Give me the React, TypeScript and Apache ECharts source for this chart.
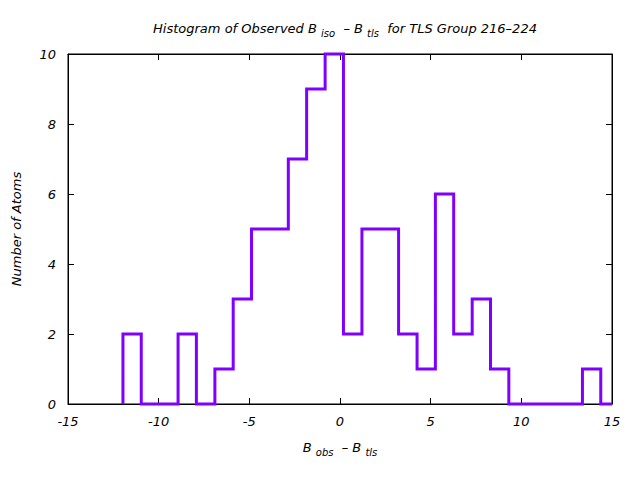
import React, { useEffect, useRef } from "react";
import * as echarts from "echarts";

// Bin edges (B_obs - B_tls) and counts per bin
const binEdges = [
  -11.97, -10.96, -9.94, -8.93, -7.92, -6.9, -5.89, -4.88, -3.86, -2.85, -1.84,
  -0.82, 0.19, 1.21, 2.22, 3.23, 4.25, 5.26, 6.27, 7.29, 8.3, 9.31, 10.33,
  11.34, 12.35, 13.37, 14.38,
];
const binCounts = [
  2, 0, 0, 2, 0, 1, 3, 5, 5, 7, 9, 10, 2, 5, 5, 2, 1, 6, 2, 3, 1, 0, 0, 0, 0, 1,
];
const xTicks = [-15, -10, -5, 0, 5, 10, 15];
const yTicks = [0, 2, 4, 6, 8, 10];

const FONT = "DejaVu Sans";

export default function App() {
  const ref = useRef<HTMLDivElement>(null);
  useEffect(() => {
    if (!ref.current) return;
    const chart = echarts.init(ref.current, null, { renderer: "svg" });
    const pts: number[][] = [[binEdges[0], 0]];
    for (let i = 0; i < binCounts.length; i++) {
      pts.push([binEdges[i], binCounts[i]]);
      pts.push([binEdges[i + 1], binCounts[i]]);
    }
    pts.push([binEdges[binEdges.length - 1], 0]);
    pts.push([xTicks[xTicks.length - 1], 0]);

    const txt = { fontFamily: FONT, fontStyle: "italic", fontWeight: "normal", fontSize: 13, color: "#000" };
    const sub = { fontFamily: FONT, fontStyle: "italic", fontWeight: "normal", fontSize: 10, color: "#000", padding: [9, 0, 0, 0] };
    const tickCommon = { show: true, inside: true, length: 6, lineStyle: { color: "#000" } };

    chart.setOption({
      animation: false,
      backgroundColor: "#fff",
      title: {
        text: "{a|Histogram of Observed B }{s|iso}{a|  – B }{s|tls}{a|  for TLS Group 216–224}",
        left: 340,
        textAlign: "center",
        top: 14,
        textStyle: { fontWeight: "normal", rich: { a: txt, s: sub } },
      },
      grid: { left: 68, right: 28, top: 54, bottom: 76, show: true, borderColor: "#000", borderWidth: 1 },
      xAxis: [
        {
          type: "value",
          min: -15,
          max: 15,
          interval: 5,
          position: "bottom",
          axisLine: { show: true, onZero: false, lineStyle: { color: "#000" } },
          axisTick: tickCommon,
          splitLine: { show: false },
          axisLabel: { ...txt, margin: 11 },
          name: "{a|B }{s|obs}{a|  – B }{s|tls}",
          nameLocation: "middle",
          nameGap: 34,
          nameTextStyle: { rich: { a: txt, s: sub } },
        },
        {
          type: "value",
          min: -15,
          max: 15,
          interval: 5,
          position: "top",
          axisLine: { show: true, onZero: false, lineStyle: { color: "#000" } },
          axisTick: tickCommon,
          splitLine: { show: false },
          axisLabel: { show: false },
        },
      ],
      yAxis: [
        {
          type: "value",
          min: 0,
          max: 10,
          interval: 2,
          position: "left",
          axisLine: { show: true, onZero: false, lineStyle: { color: "#000" } },
          axisTick: tickCommon,
          splitLine: { show: false },
          axisLabel: { ...txt, margin: 12 },
          name: "Number of Atoms",
          nameLocation: "middle",
          nameGap: 45,
          nameRotate: 90,
          nameTextStyle: txt,
        },
        {
          type: "value",
          min: 0,
          max: 10,
          interval: 2,
          position: "right",
          axisLine: { show: true, onZero: false, lineStyle: { color: "#000" } },
          axisTick: tickCommon,
          splitLine: { show: false },
          axisLabel: { show: false },
        },
      ],
      series: [
        {
          type: "line",
          data: pts,
          xAxisIndex: 0,
          yAxisIndex: 0,
          showSymbol: false,
          symbol: "none",
          clip: false,
          lineStyle: { color: "#8000ff", width: 3, join: "miter" },
          z: 1,
        },
      ],
    });
    return () => chart.dispose();
  }, []);
  return <div ref={ref} style={{ width: 640, height: 480, position: "absolute", left: 0, top: 0 }} />;
}
